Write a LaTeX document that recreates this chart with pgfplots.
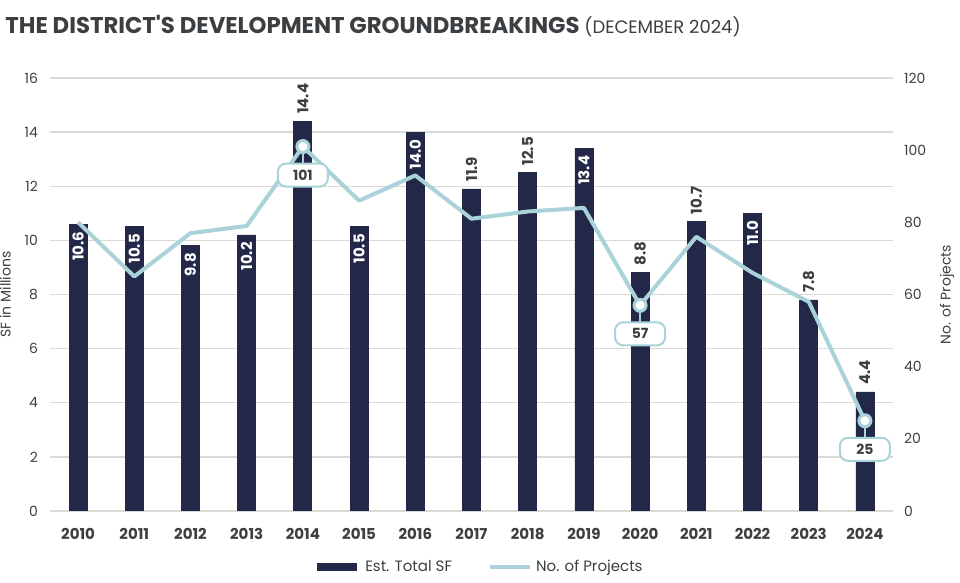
\documentclass[border=0pt]{standalone}
\usepackage{fontspec}
\setmainfont{Poppins}[Ligatures=TeXOff]
\usepackage{pgfplots}
\pgfplotsset{compat=1.18}
\definecolor{navy}{HTML}{232849}
\definecolor{lblue}{HTML}{A9D3D8}
\definecolor{gridc}{HTML}{DAD9D4}
\definecolor{txt}{HTML}{3C3F42}

\pgfplotstableread{
x y
0 10.6
1 10.5
2 9.8
3 10.2
4 14.4
5 10.5
6 14.0
7 11.9
8 12.5
9 13.4
10 8.8
11 10.7
12 11.0
13 7.8
14 4.4
}\sfdata

\pgfplotstableread{
x y
0 10.6
1 10.5
2 9.8
3 10.2
5 10.5
6 14.0
9 13.4
12 11.0
}\inside

\pgfplotstableread{
x y
4 14.4
7 11.9
8 12.5
10 8.8
11 10.7
13 7.8
14 4.4
}\above

\pgfplotstableread{
x y
0 80
1 65
2 77
3 79
4 101
5 86
6 93
7 81
8 83
9 84
10 57
11 76
12 66
13 58
14 25
}\projects

\pgfplotstableread{
x y e
4 101 4.5
10 57 4.5
14 25 4.5
}\callouts

\begin{document}
\begin{tikzpicture}
\useasboundingbox (0,0) rectangle (480pt,291.5pt);
\node[anchor=base west, inner sep=0, text=txt] at (2.5pt,274.5pt)
 {\fontsize{11.4}{13}\selectfont\bfseries THE DISTRICT'S DEVELOPMENT GROUNDBREAKINGS\ \mdseries\fontsize{9}{10}\selectfont(DECEMBER 2024)};

\begin{axis}[
 at={(25pt,36pt)}, anchor=south west, scale only axis,
 width=421.5pt, height=216.5pt,
 xmin=-0.5, xmax=14.5, ymin=0, ymax=16,
 xtick={0,...,14},
 xticklabels={2010,2011,2012,2013,2014,2015,2016,2017,2018,2019,2020,2021,2022,2023,2024},
 ytick={0,2,...,16},
 ymajorgrids, grid style={gridc, line width=0.7pt},
 axis line style={draw=none}, major tick length=0pt,
 /pgf/number format/assume math mode=true,
 yticklabel style={font=\fontsize{7}{8}\selectfont, text=txt, xshift=-2.5pt},
 xticklabel style={font=\bfseries\fontsize{7.5}{9}\selectfont, text=txt, yshift=-5pt},
 ylabel={SF in Millions},
 ylabel style={font=\fontsize{7}{8}\selectfont, text=txt},
]
\addplot[ybar, bar width=9pt, bar shift=0pt, fill=navy, draw=navy] table[x=x,y=y] {\sfdata};
\addplot[draw=none, mark=none, nodes near coords={\pgfmathprintnumber[fixed,fixed zerofill,precision=1]{\pgfplotspointmeta}},
 nodes near coords style={rotate=90, anchor=east, inner sep=3.5pt, text=white, font=\bfseries\fontsize{7.5}{9}\selectfont}]
 table[x=x,y=y] {\inside};
\addplot[draw=none, mark=none, nodes near coords={\pgfmathprintnumber[fixed,fixed zerofill,precision=1]{\pgfplotspointmeta}},
 nodes near coords style={rotate=90, anchor=west, inner sep=3.5pt, text=txt, font=\bfseries\fontsize{7.5}{9}\selectfont}]
 table[x=x,y=y] {\above};
\end{axis}

\begin{axis}[
 at={(25pt,36pt)}, anchor=south west, scale only axis,
 width=421.5pt, height=216.5pt,
 xmin=-0.5, xmax=14.5, ymin=0, ymax=120,
 ytick={0,20,...,120},
 axis x line=none, axis y line*=right,
 axis line style={draw=none}, major tick length=0pt,
 /pgf/number format/assume math mode=true,
 yticklabel style={font=\fontsize{7}{8}\selectfont, text=txt, xshift=2pt},
 ylabel={No. of Projects},
 ylabel style={font=\fontsize{7}{8}\selectfont, text=txt},
 legend style={draw=none, fill=none, at={(0.51,-0.13)}, anchor=center,
   legend columns=2, font=\fontsize{7.5}{9}\selectfont, text=txt,
   /tikz/every even column/.append style={column sep=16pt}},
 legend image code/.code={\draw[#1] (0pt,0pt) -- (20pt,0pt);},
]
\addlegendimage{navy, line width=4pt}
\addlegendentry{Est. Total SF}
\addplot[lblue, line width=2pt, line join=round, mark=none] table[x=x,y=y] {\projects};
\addlegendentry{No. of Projects}
\addplot[forget plot, lblue, only marks, mark=*, mark size=3pt,
 mark options={fill=white, draw=lblue, line width=1.5pt},
 error bars/.cd, y dir=minus, y explicit, error mark=none,
 error bar style={lblue, line width=1pt}]
 table[x=x,y=y,y error=e] {\callouts};
\addplot[forget plot, draw=none, mark=none, nodes near coords,
 nodes near coords style={anchor=north, yshift=-8pt, draw=lblue, line width=1pt, fill=white,
  rounded corners=4pt, minimum width=25pt, minimum height=11.5pt, inner sep=1pt,
  text=txt, font=\bfseries\fontsize{7}{8}\selectfont}]
 table[x=x,y=y] {\callouts};
\end{axis}
\end{tikzpicture}
\end{document}
